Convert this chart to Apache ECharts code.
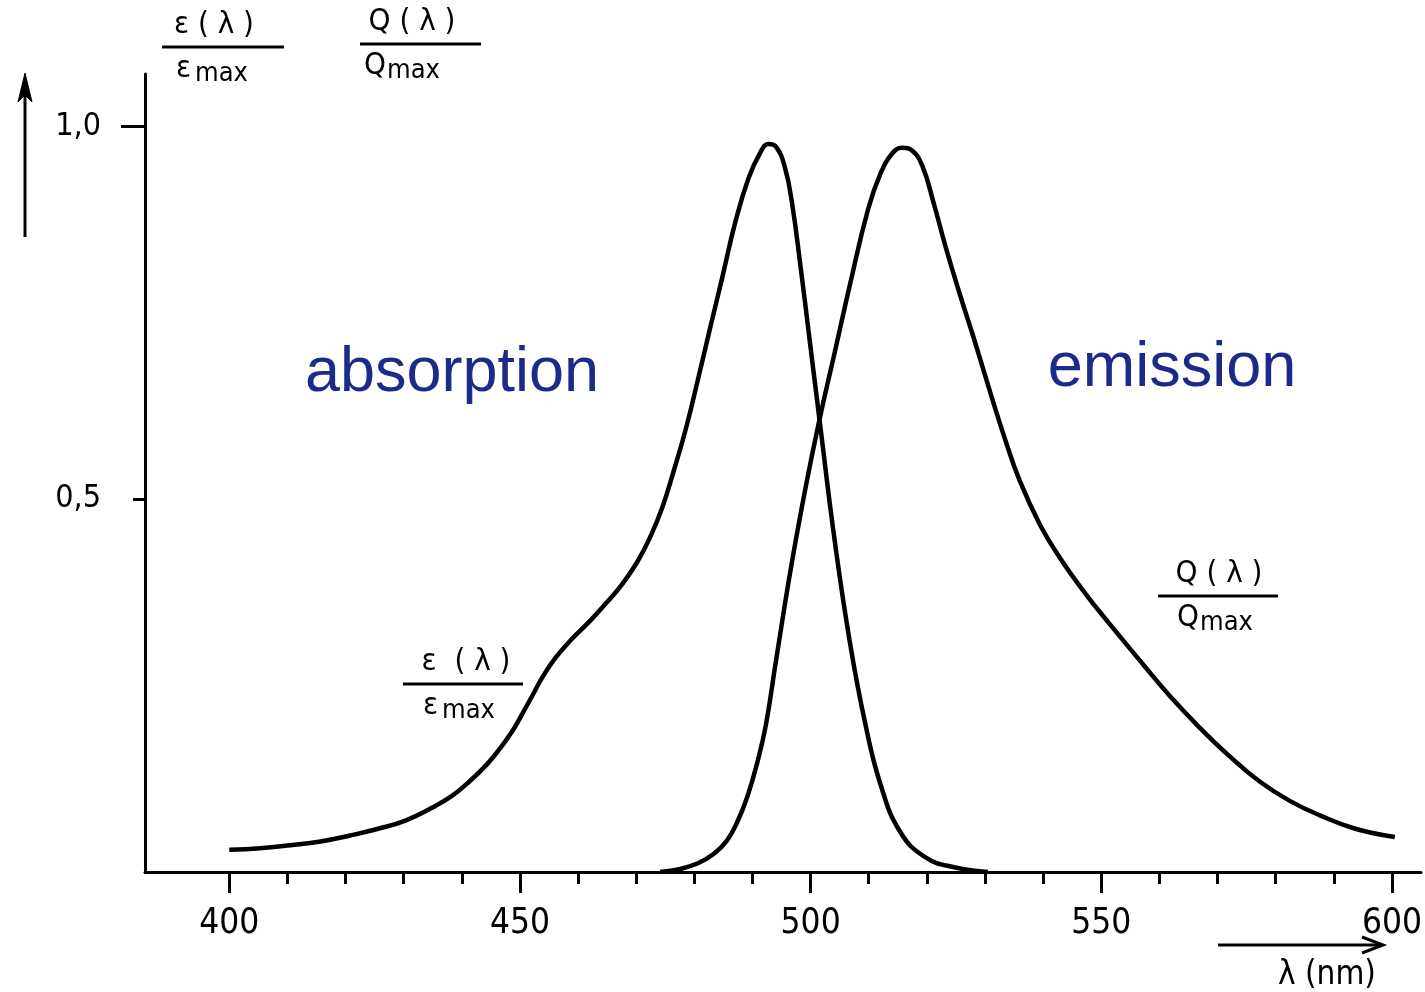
<!DOCTYPE html>
<html>
<head>
<meta charset="utf-8">
<script src="https://cdn.jsdelivr.net/npm/echarts@6/dist/echarts.min.js"></script>
<style>
  html, body { margin: 0; padding: 0; background: #fff; }
  #main { width: 1425px; height: 992px; }
</style>
</head>
<body>
<div id="main"></div>
<script>
// absorption  eps(lambda)/eps_max
var absWl  = [400, 405.3, 410.5, 415.7, 420.8, 425.6, 430.3, 434.6, 438.3, 441.4, 444.4, 446.6, 448.7, 450.4, 452.1, 454.0, 456.2, 459.0, 462.1, 465.0, 467.6, 470.2, 472.4, 474.5, 476.5, 478.6, 480.7, 482.7, 484.8, 487.0, 489.3, 491.3, 492.7, 494.1, 495.6, 496.8, 498.2, 499.9, 501.6, 504.2, 506.8, 509.4, 512.0, 515.4, 519.7, 524.9, 530.5];
var absVal = [0.030, 0.032, 0.036, 0.041, 0.049, 0.058, 0.069, 0.085, 0.102, 0.122, 0.145, 0.166, 0.189, 0.212, 0.236, 0.263, 0.288, 0.313, 0.337, 0.362, 0.386, 0.416, 0.449, 0.489, 0.539, 0.596, 0.663, 0.729, 0.797, 0.870, 0.930, 0.964, 0.976, 0.972, 0.944, 0.897, 0.816, 0.709, 0.602, 0.441, 0.306, 0.199, 0.118, 0.054, 0.020, 0.006, 0.000];
// emission  Q(lambda)/Q_max
var emWl  = [474.1, 477.6, 480.7, 483.3, 485.6, 487.5, 489.2, 490.8, 492.3, 494.0, 496.6, 499.1, 501.4, 504.3, 506.9, 509.9, 512.0, 514.0, 515.7, 517.5, 519.2, 521.1, 523.2, 525.7, 528.3, 530.9, 533.5, 536.0, 539.5, 542.9, 547.2, 551.5, 556.7, 561.8, 567.0, 572.1, 577.3, 582.5, 587.6, 593.7, 600.5];
var emVal = [0.000, 0.004, 0.012, 0.024, 0.042, 0.069, 0.103, 0.146, 0.197, 0.281, 0.407, 0.514, 0.602, 0.702, 0.792, 0.889, 0.936, 0.963, 0.971, 0.967, 0.947, 0.899, 0.839, 0.774, 0.710, 0.643, 0.579, 0.524, 0.465, 0.421, 0.374, 0.332, 0.283, 0.236, 0.193, 0.155, 0.121, 0.095, 0.076, 0.058, 0.047];

var xMajor = [400, 450, 500, 550, 600];
var xMinor = [410, 420, 430, 440, 460, 470, 480, 490, 510, 520, 530, 540, 560, 570, 580, 590];
var yLabels = [0.5, 1.0];

var FONT = "'DejaVu Sans Condensed', 'Liberation Sans Narrow', sans-serif";
var BLUE = '#1c2a8a';

function pairs(xs, ys) {
    var out = [];
    for (var i = 0; i < xs.length; i++) out.push([xs[i], ys[i]]);
    return out;
}

// fraction label: numerator, bar, denominator (symbol + "max")
function frac(x1, x2, barY, numX, num, symX, sym, maxX) {
    return [
        { type: 'text', x: numX, y: barY - 22,
          style: { text: num, font: '31px ' + FONT, fill: '#000', align: 'center', verticalAlign: 'middle' } },
        { type: 'line', shape: { x1: x1, y1: barY, x2: x2, y2: barY },
          style: { stroke: '#000', lineWidth: 3 } },
        { type: 'text', x: symX, y: barY + 22,
          style: { text: sym, font: '31px ' + FONT, fill: '#000', align: 'left', verticalAlign: 'middle' } },
        { type: 'text', x: maxX, y: barY + 27,
          style: { text: 'max', font: '27px ' + FONT, fill: '#000', align: 'left', verticalAlign: 'middle' } }
    ];
}

var chart = echarts.init(document.getElementById('main'));

var graphics = [];
graphics = graphics.concat(frac(162, 284, 47, 214, 'ε ( λ )', 176, 'ε', 195));
graphics = graphics.concat(frac(360, 481, 44, 412, 'Q ( λ )', 364, 'Q', 387));
graphics = graphics.concat(frac(403, 523, 684, 466, 'ε  ( λ )', 423, 'ε', 442));
graphics = graphics.concat(frac(1158, 1278, 596, 1219, 'Q ( λ )', 1177, 'Q', 1200));
graphics.push(
    // vertical arrow
    { type: 'polyline', shape: { points: [[25, 237], [25, 90]] }, style: { stroke: '#000', lineWidth: 3, fill: null } },
    { type: 'polygon', shape: { points: [[18, 102], [25, 73], [32, 102], [25, 95]] }, style: { fill: '#000', stroke: '#000', lineWidth: 1 } },
    // horizontal arrow
    { type: 'polyline', shape: { points: [[1218, 945], [1381, 945]] }, style: { stroke: '#000', lineWidth: 3, fill: null } },
    { type: 'polyline', shape: { points: [[1362, 937], [1383, 945], [1362, 953]] }, style: { stroke: '#000', lineWidth: 3, fill: null } },
    { type: 'text', x: 1327, y: 975, style: { text: 'λ (nm)', font: '33px ' + FONT, fill: '#000', align: 'center', verticalAlign: 'middle' } },
    // blue captions
    { type: 'text', x: 452, y: 374, style: { text: 'absorption', font: '63px "Liberation Sans", Arial, sans-serif', fill: BLUE, align: 'center', verticalAlign: 'middle' } },
    { type: 'text', x: 1172, y: 369, style: { text: 'emission', font: '63px "Liberation Sans", Arial, sans-serif', fill: BLUE, align: 'center', verticalAlign: 'middle' } }
);

var option = {
    backgroundColor: '#fff',
    animation: false,
    grid: { left: 145, right: 4, top: 74, bottom: 120 },
    xAxis: [{
        type: 'value', min: 385.5, max: 605,
        axisLine: { show: true, lineStyle: { color: '#000', width: 3 } },
        axisTick: { show: true, customValues: xMajor, length: 21, lineStyle: { color: '#000', width: 3 } },
        axisLabel: { show: true, customValues: xMajor, margin: 34, color: '#000', fontSize: 35, fontFamily: FONT },
        splitLine: { show: false }
    }, {
        type: 'value', min: 385.5, max: 605, position: 'bottom',
        axisLine: { show: false },
        axisTick: { show: true, customValues: xMinor, length: 12, lineStyle: { color: '#000', width: 3 } },
        axisLabel: { show: false },
        splitLine: { show: false }
    }],
    yAxis: [{
        type: 'value', min: 0, max: 1.07,
        axisLine: { show: true, lineStyle: { color: '#000', width: 3 } },
        axisTick: { show: true, customValues: [1.0], length: 24, lineStyle: { color: '#000', width: 3 } },
        axisLabel: { show: true, customValues: yLabels, margin: 44, color: '#000', fontSize: 32, fontFamily: FONT,
            formatter: function (v) { return v.toFixed(1).replace('.', ','); } },
        splitLine: { show: false }
    }, {
        type: 'value', min: 0, max: 1.07, position: 'left',
        axisLine: { show: false },
        axisTick: { show: true, customValues: [0.5], length: 12, lineStyle: { color: '#000', width: 3 } },
        axisLabel: { show: false },
        splitLine: { show: false }
    }],
    series: [{
        name: 'absorption', type: 'line', xAxisIndex: 0, yAxisIndex: 0,
        data: pairs(absWl, absVal),
        smooth: 0.45, showSymbol: false, symbol: 'none',
        lineStyle: { color: '#000', width: 4.5 }
    }, {
        name: 'emission', type: 'line', xAxisIndex: 0, yAxisIndex: 0,
        data: pairs(emWl, emVal),
        smooth: 0.45, showSymbol: false, symbol: 'none',
        lineStyle: { color: '#000', width: 4.5 }
    }],
    graphic: graphics
};

chart.setOption(option);
window.onresize = function () { chart.resize(); };
</script>
</body>
</html>
